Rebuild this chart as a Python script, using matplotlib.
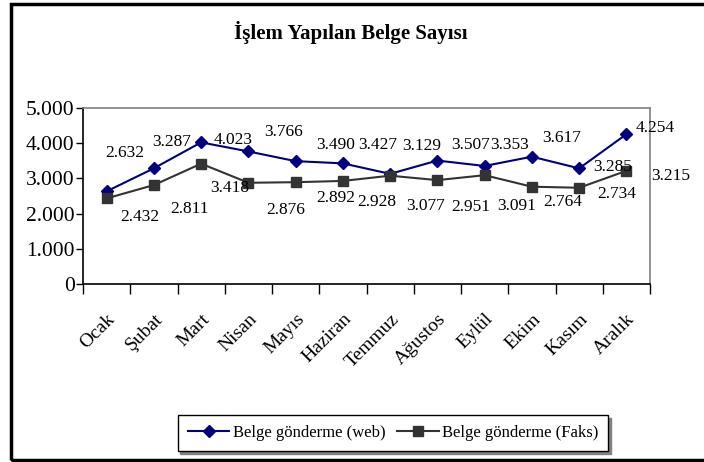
import matplotlib.pyplot as plt
from matplotlib.patches import Rectangle
from matplotlib.ticker import FixedLocator, NullFormatter

plt.rcParams['font.family'] = ['Liberation Serif', 'DejaVu Serif']

# Veriler
aylar = ['Ocak', 'Şubat', 'Mart', 'Nisan', 'Mayıs', 'Haziran', 'Temmuz',
         'Ağustos', 'Eylül', 'Ekim', 'Kasım', 'Aralık']
web = [2632, 3287, 4023, 3766, 3490, 3427, 3129, 3507, 3353, 3617, 3285, 4254]
faks = [2432, 2811, 3418, 2876, 2892, 2928, 3077, 2951, 3091, 2764, 2734, 3215]
y_ticks = [0, 1000, 2000, 3000, 4000, 5000]

# Etiket kaydirmalari (piksel)
web_off = [(18, 38), (18, 26), (32, 2), (35, 19), (40, 16), (35, 18),
           (32, 28), (33, 16), (25, 21), (30, 19), (33, 1), (29, 6)]
faks_off = [(33, -19), (36, -24), (29, -24), (37, -27), (40, -16), (34, -21),
            (35, -30), (33, -27), (32, -31), (31, -15), (38, -6), (44, -5)]


def nokta(v):
    return f'{v:,}'.replace(',', '.')


fig = plt.figure(figsize=(7.04, 4.62), dpi=100)
ax = fig.add_axes([83 / 704, 178 / 462, 567 / 704, 176 / 462])

x = list(range(len(aylar)))
ax.plot(x, web, color='#000080', marker='D', markersize=6, linewidth=1.5,
        label='Belge gönderme (web)')
ax.plot(x, faks, color='#333333', marker='s', markersize=7, linewidth=1.5,
        label='Belge gönderme (Faks)')

for i, v in enumerate(web):
    ax.annotate(nokta(v), (i, v), xytext=web_off[i], textcoords='offset pixels',
                ha='center', va='center', fontsize=12.5)
for i, v in enumerate(faks):
    ax.annotate(nokta(v), (i, v), xytext=faks_off[i], textcoords='offset pixels',
                ha='center', va='center', fontsize=12.5)

ax.set_xlim(-0.5, len(aylar) - 0.5)
ax.set_ylim(0, 5000)
ax.set_yticks(y_ticks)
ax.set_yticklabels([nokta(t) for t in y_ticks], fontsize=15.5)
ax.tick_params(axis='y', direction='out', length=5, width=1, pad=1)

ax.xaxis.set_major_locator(FixedLocator([i - 0.5 for i in range(len(aylar) + 1)]))
ax.xaxis.set_major_formatter(NullFormatter())
ax.xaxis.set_minor_locator(FixedLocator(x))
ax.set_xticklabels(aylar, minor=True, rotation=45, ha='right', va='top',
                   rotation_mode='anchor', fontsize=14)
ax.tick_params(axis='x', which='major', direction='out', length=7, width=1)
ax.tick_params(axis='x', which='minor', length=0, pad=19)

ax.spines['left'].set_color('black')
ax.spines['bottom'].set_color('black')
ax.spines['top'].set_color('#808080')
ax.spines['right'].set_color('#808080')
for s in ax.spines.values():
    s.set_linewidth(1.2)

fig.text(351 / 704, 1 - 32 / 462, 'İşlem Yapılan Belge Sayısı', ha='center',
         va='center', fontsize=15, fontweight='bold')

leg = fig.legend(loc='center', bbox_to_anchor=(393 / 704, 1 - 433 / 462),
                 ncol=2, fontsize=12, frameon=True, fancybox=False,
                 shadow={'color': '#808080', 'alpha': 1}, handlelength=2.5,
                 columnspacing=0.7, handletextpad=0.2, borderpad=0.6)
leg.get_frame().set_edgecolor('black')
leg.get_frame().set_linewidth(1)

fig.patches.append(Rectangle((11 / 704, 2 / 462), 1.0, 456 / 462,
                             transform=fig.transFigure, fill=False,
                             edgecolor='black', linewidth=2.5))

fig.savefig('out.png', dpi=100)
